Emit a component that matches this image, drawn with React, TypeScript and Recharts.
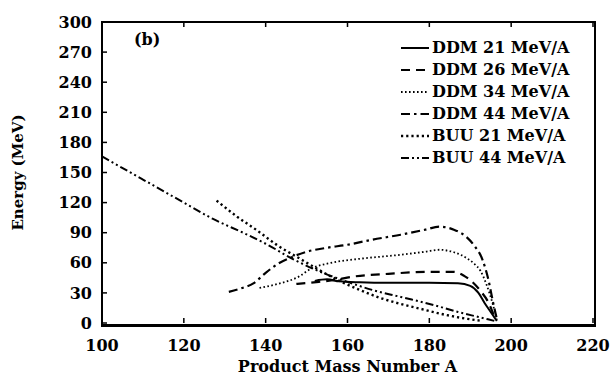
import React from "react";
import { LineChart, Line, XAxis, YAxis } from "recharts";

// [A, energy] pairs
const ddm21: [number, number][] = [
  [152, 42], [155, 43.5], [158, 41.5], [163, 40.5], [170, 40], [180, 40], [187, 39.5],
  [190, 37], [192, 30], [193.5, 20], [195, 11], [196.5, 2],
];
const ddm26: [number, number][] = [
  [147.5, 39], [153, 41], [157, 43], [161, 46], [170, 49], [180, 51], [186, 51],
  [188.5, 47], [190.5, 41], [192.5, 32], [194.5, 20], [196, 5],
];
const ddm34: [number, number][] = [
  [138.5, 35], [143, 39], [148, 46], [151, 54], [156, 60], [163, 64], [173, 68],
  [179, 71], [182.5, 73], [186, 70.5], [189, 65], [191, 59], [192.5, 52], [194, 38],
  [195.5, 19], [196.5, 3],
];
const ddm44: [number, number][] = [
  [131, 31], [134, 34.5], [137, 39.5], [140, 50], [143, 59], [146, 65], [150, 71],
  [155, 75], [160, 78], [166, 83], [173, 88], [179, 93], [182.5, 96], [186, 93],
  [189, 86], [191, 77], [193, 63], [194.5, 42], [195.5, 22], [196.5, 4],
];
const buu21: [number, number][] = [
  [128, 122], [133, 106], [138, 92], [143, 77], [148, 65], [153, 53], [158, 42],
  [163, 33], [168, 25], [173, 19], [178, 14], [183, 9], [188, 5], [193, 2],
];
const buu44: [number, number][] = [
  [100, 166], [110, 143], [120, 120], [127, 104], [135, 89], [140, 79], [147, 63],
  [154, 50], [160, 41], [166, 33], [173, 26], [181, 18], [187, 11], [192, 6], [196, 2],
];

const xTicks = [100, 120, 140, 160, 180, 200, 220];
const yTicks = [0, 30, 60, 90, 120, 150, 180, 210, 240, 270, 300];

const toRows = (pts: [number, number][]) => pts.map(([a, e]) => ({ a, e }));

const series = [
  { name: "DDM 21 MeV/A", pts: ddm21, dash: undefined, w: 2 },
  { name: "DDM 26 MeV/A", pts: ddm26, dash: "9 6", w: 2.2 },
  { name: "DDM 34 MeV/A", pts: ddm34, dash: "1.6 2.4", w: 1.8 },
  { name: "DDM 44 MeV/A", pts: ddm44, dash: "9 4 2.5 4", w: 2.2 },
  { name: "BUU 21 MeV/A", pts: buu21, dash: "2.2 3", w: 2.4 },
  { name: "BUU 44 MeV/A", pts: buu44, dash: "8 3 2 3 2 3", w: 2 },
];

const font = "'DejaVu Serif', serif";
const W = 613;
const H = 384;
const M = { top: 22, right: 20, bottom: 0, left: 0 };
const X_AXIS_H = 61;
const Y_AXIS_W = 102;
const PLOT_TOP = M.top;
const PLOT_BOTTOM = H - M.bottom - X_AXIS_H;
const PLOT_LEFT = M.left + Y_AXIS_W;
const PLOT_RIGHT = W - M.right;
const TICK = 5;

const labelStyle = { fill: "#000", fontSize: 16, fontWeight: "bold", fontFamily: font };

// tick label plus inward tick marks on bottom and top frame edges
const XTick = (p: any) => (
  <g>
    <path
      d={`M${p.x},${PLOT_BOTTOM}v${-TICK}M${p.x},${PLOT_TOP}v${TICK}`}
      stroke="#000"
      strokeWidth={1.5}
      fill="none"
    />
    <text x={p.x} y={p.y} dy="0.71em" textAnchor="middle" {...labelStyle}>
      {p.payload.value}
    </text>
  </g>
);

const YTick = (p: any) => (
  <g>
    <path d={`M${PLOT_LEFT},${p.y}h${TICK}`} stroke="#000" strokeWidth={1.5} fill="none" />
    <text x={p.x} y={p.y} dy="0.355em" textAnchor="end" {...labelStyle}>
      {p.payload.value}
    </text>
  </g>
);

export default function App() {
  return (
    <div style={{ position: "absolute", left: 0, top: 0, width: W, height: H, background: "#fff" }}>
      <LineChart width={W} height={H} margin={M}>
        <XAxis
          xAxisId="x"
          type="number"
          dataKey="a"
          domain={[100, 220]}
          ticks={xTicks}
          tickLine={false}
          tickSize={0}
          tickMargin={17}
          height={X_AXIS_H}
          axisLine={false}
          tick={<XTick />}
          label={{
            value: "Product Mass Number A",
            position: "insideBottom",
            offset: 12,
            style: labelStyle,
          }}
        />
        <YAxis
          yAxisId="y"
          type="number"
          domain={[0, 300]}
          ticks={yTicks}
          width={Y_AXIS_W}
          tickLine={false}
          tickSize={0}
          tickMargin={10}
          axisLine={false}
          tick={<YTick />}
          label={{
            value: "Energy (MeV)",
            angle: -90,
            position: "insideLeft",
            offset: 18,
            style: { ...labelStyle, fontSize: 15, textAnchor: "middle" },
          }}
        />
        {series.map((s) => (
          <Line
            key={s.name}
            xAxisId="x"
            yAxisId="y"
            data={toRows(s.pts)}
            dataKey="e"
            name={s.name}
            type="monotone"
            stroke="#000"
            strokeWidth={s.w}
            strokeDasharray={s.dash}
            dot={false}
            isAnimationActive={false}
          />
        ))}
      </LineChart>
      {/* plot frame, bottom edge a bit heavier like the scan */}
      <div
        style={{
          position: "absolute",
          left: PLOT_LEFT - 1,
          top: PLOT_TOP - 1,
          width: PLOT_RIGHT - PLOT_LEFT,
          height: PLOT_BOTTOM - PLOT_TOP,
          borderStyle: "solid",
          borderColor: "#000",
          borderWidth: "2px 2px 3px 2px",
          pointerEvents: "none",
        }}
      />
      <div
        style={{
          position: "absolute",
          left: 134,
          top: 30,
          fontFamily: font,
          fontWeight: "bold",
          fontSize: 16,
        }}
      >
        (b)
      </div>
      <div style={{ position: "absolute", left: 398, top: 37, fontFamily: font, fontWeight: "bold", fontSize: 16 }}>
        {series.map((s) => (
          <div key={s.name} style={{ height: 22, display: "flex", alignItems: "center" }}>
            <svg width={34} height={22}>
              <line x1={3} x2={31} y1={11} y2={11} stroke="#000" strokeWidth={s.w} strokeDasharray={s.dash} />
            </svg>
            <span style={{ lineHeight: "22px" }}>{s.name}</span>
          </div>
        ))}
      </div>
    </div>
  );
}
